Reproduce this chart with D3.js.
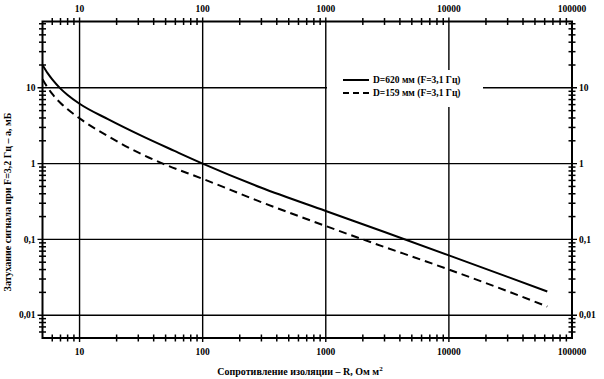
<!DOCTYPE html>
<html>
<head>
<meta charset="utf-8">
<script src="https://cdn.jsdelivr.net/npm/d3@7"></script>
<style>
  html, body { margin: 0; padding: 0; background: #fff; }
  svg { display: block; }
  text { font-family: "Liberation Serif", "Times New Roman", serif; font-weight: bold; fill: #000; }
</style>
</head>
<body>
<svg id="chart" width="604" height="379"></svg>
<script>
// ---- data ----
const resistanceSolid = [5, 5.5, 6, 7, 8, 10, 17, 32, 59, 100, 300, 1000, 3000, 10000, 30000, 63000];
const attenSolid      = [20, 15.6, 12.9, 9.77, 8.05, 6.16, 3.86, 2.32, 1.47, 1.0, 0.48, 0.237, 0.125, 0.0615, 0.032, 0.0205];
const resistanceDashed = [5, 5.5, 6, 7, 8, 10, 17, 32, 47.5, 100, 300, 1000, 2000, 10000, 30000, 63000];
const attenDashed      = [13, 10.1, 8.3, 6.3, 5.2, 3.95, 2.3, 1.33, 1.0, 0.63, 0.31, 0.15, 0.1, 0.04, 0.0207, 0.013];
const seriesNames = ["D=620 мм (F=3,1 Гц)", "D=159 мм (F=3,1 Гц)"];
const xMajor = [10, 100, 1000, 10000, 100000];
const xMajorLabels = ["10", "100", "1000", "10000", "100000"];
const yMajor = [0.01, 0.1, 1, 10];
const yMajorLabels = ["0,01", "0,1", "1", "10"];
const xTitle = "Сопротивление изоляции – R, Ом м";
const yTitle = "Затухание сигнала при  F=3,2 Гц – а, мБ";

// ---- layout ----
const svg = d3.select("#chart");
const L = 42.5, R = 572, T = 21.5, B = 338;
const x = d3.scaleLog().domain([5, 100000]).range([L, R]);
const y = d3.scaleLog().domain([0.005, 75]).range([B, T]);

// minor tick values
const xMinor = [];
for (let d = 1; d <= 10000; d *= 10) for (let k = 2; k <= 9; k++) { const v = k * d; if (v > 5 && v < 100000) xMinor.push(v); }
const yMinor = [];
for (let d = 0.001; d <= 10; d *= 10) for (let k = 2; k <= 9; k++) { const v = +(k * d).toPrecision(3); if (v > 0.005 && v < 75) yMinor.push(v); }

const g = svg.append("g");

// grid lines (major decades)
g.selectAll(".gx").data(xMajor.filter(v => v < 100000)).enter().append("line")
  .attr("x1", d => x(d)).attr("x2", d => x(d)).attr("y1", T - 4).attr("y2", B + 4)
  .attr("stroke", "#000").attr("stroke-width", 1.4);
g.selectAll(".gy").data(yMajor).enter().append("line")
  .attr("x1", L - 5).attr("x2", R + 5).attr("y1", d => y(d)).attr("y2", d => y(d))
  .attr("stroke", "#000").attr("stroke-width", 1.4);

// frame
g.append("rect").attr("x", L).attr("y", T).attr("width", R - L).attr("height", B - T)
  .attr("fill", "none").attr("stroke", "#000").attr("stroke-width", 2);

// minor ticks crossing the frame
const tl = 3.5;
[T, B].forEach(yy => {
  g.selectAll(null).data(xMinor).enter().append("line")
    .attr("x1", d => x(d)).attr("x2", d => x(d)).attr("y1", yy - tl).attr("y2", yy + tl)
    .attr("stroke", "#000").attr("stroke-width", 1.5);
});
[L, R].forEach(xx => {
  g.selectAll(null).data(yMinor).enter().append("line")
    .attr("y1", d => y(d)).attr("y2", d => y(d)).attr("x1", xx - tl).attr("x2", xx + tl)
    .attr("stroke", "#000").attr("stroke-width", 1.5);
});

// tick labels
const fs = 9.5;
g.selectAll(".xlt").data(xMajor).enter().append("text")
  .attr("x", d => x(d)).attr("y", 12).attr("text-anchor", "middle").attr("font-size", fs)
  .text((d, i) => xMajorLabels[i]);
g.selectAll(".xlb").data(xMajor).enter().append("text")
  .attr("x", d => x(d)).attr("y", 355).attr("text-anchor", "middle").attr("font-size", fs)
  .text((d, i) => xMajorLabels[i]);
g.selectAll(".yll").data(yMajor).enter().append("text")
  .attr("x", L - 7).attr("y", d => y(d) + 3.3).attr("text-anchor", "end").attr("font-size", fs)
  .text((d, i) => yMajorLabels[i]);
g.selectAll(".ylr").data(yMajor).enter().append("text")
  .attr("x", R + 7).attr("y", d => y(d) + 3.3).attr("text-anchor", "start").attr("font-size", fs)
  .text((d, i) => yMajorLabels[i]);

// axis titles
const xt = g.append("text").attr("x", 300).attr("y", 375).attr("text-anchor", "middle").attr("font-size", 10);
xt.append("tspan").text(xTitle);
xt.append("tspan").attr("dy", -4).attr("font-size", 7).text("2");
g.append("text").attr("transform", "translate(11,202) rotate(-90)").attr("text-anchor", "middle")
  .attr("font-size", 10).text(yTitle);

// legend box
const lg = g.append("g");
lg.append("rect").attr("x", 327).attr("y", 70).attr("width", 156).attr("height", 37).attr("fill", "#fff");

// curves
const line = d3.line().x(d => x(d[0])).y(d => y(d[1])).curve(d3.curveMonotoneX);
const solidData = resistanceSolid.map((r, i) => [r, attenSolid[i]]);
const dashedData = resistanceDashed.map((r, i) => [r, attenDashed[i]]);
g.append("path").datum(solidData).attr("d", line).attr("fill", "none").attr("stroke", "#000").attr("stroke-width", 2);
g.append("path").datum(dashedData).attr("d", line).attr("fill", "none").attr("stroke", "#000").attr("stroke-width", 2)
  .attr("stroke-dasharray", "8,5");

// legend entries
[0, 1].forEach(i => {
  const yy = 80 + i * 13;
  lg.append("line").attr("x1", 343).attr("x2", 369).attr("y1", yy).attr("y2", yy)
    .attr("stroke", "#000").attr("stroke-width", 2).attr("stroke-dasharray", i ? "6,4" : null);
  lg.append("text").attr("x", 373).attr("y", yy + 3.3).attr("font-size", fs).text(seriesNames[i]);
});
</script>
</body>
</html>
